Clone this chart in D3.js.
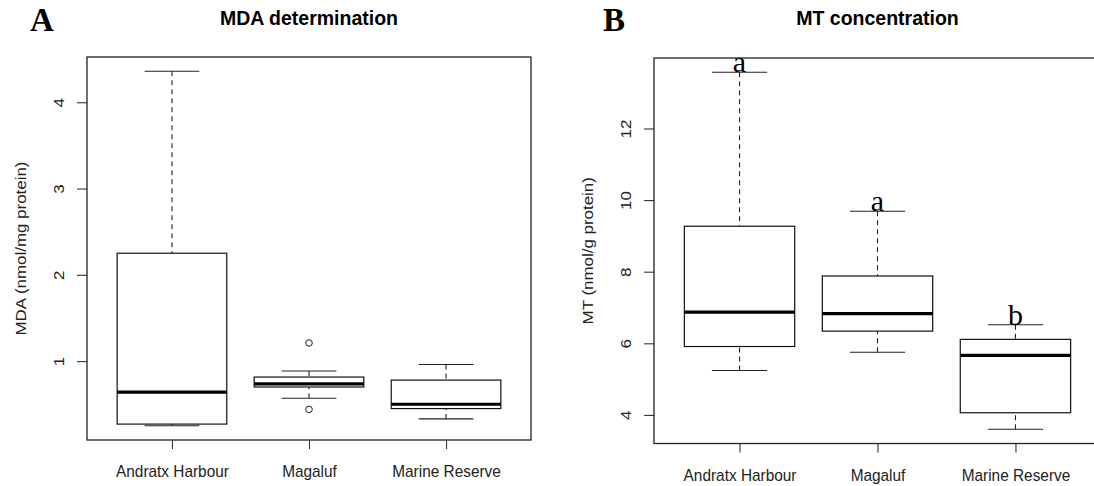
<!DOCTYPE html>
<html>
<head>
<meta charset="utf-8">
<script src="https://cdn.jsdelivr.net/npm/d3@7/dist/d3.min.js"></script>
<style>
    html, body { margin: 0; padding: 0; background: #fff; }
    svg { display: block; }
    .axis-text { font-family: "Liberation Sans", Arial, sans-serif; font-size: 15.4px; fill: #222; }
    .title { font-family: "Liberation Sans", Arial, sans-serif; font-size: 19.5px; font-weight: bold; fill: #000; }
    .panel-letter { font-family: "Liberation Serif", "Times New Roman", serif; font-size: 33px; font-weight: bold; fill: #000; }
    .sig-letter { font-family: "Liberation Serif", "Times New Roman", serif; font-size: 30px; fill: #000; }
</style>
</head>
<body>
<div id="chart"></div>
<script>
// Two R-style boxplots side by side: MDA (panel A) and MT (panel B).
// Box stats: lower whisker, Q1, median, Q3, upper whisker.

const sites = ["Andratx Harbour", "Magaluf", "Marine Reserve"];

const mdaWhiskerLow = [0.25, 0.57, 0.33];
const mdaQ1 = [0.27, 0.70, 0.45];
const mdaMedian = [0.64, 0.735, 0.50];
const mdaQ3 = [2.25, 0.815, 0.78];
const mdaWhiskerHigh = [4.36, 0.885, 0.96];
const mdaOutliers = [[], [1.21, 0.44], []];
const mdaTicks = [1, 2, 3, 4];

const mtWhiskerLow = [5.24, 5.75, 3.60];
const mtQ1 = [5.91, 6.34, 4.06];
const mtMedian = [6.87, 6.83, 5.66];
const mtQ3 = [9.27, 7.88, 6.11];
const mtWhiskerHigh = [13.57, 9.69, 6.52];
const mtOutliers = [[], [], []];
const mtTicks = [4, 6, 8, 10, 12];
const mtLetters = ["a", "a", "b"];

const W = 1094, H = 486;
// R draws text slightly stretched vertically in this figure
const STRETCH = 1.1;

const svg = d3.select("#chart").append("svg")
    .attr("width", W).attr("height", H)
    .attr("viewBox", `0 0 ${W} ${H}`);

svg.append("rect").attr("width", W).attr("height", H).attr("fill", "#fff");

function drawPanel(cfg) {
    const { frame, lo, q1, med, q3, hi, outliers, ticks, letters } = cfg;

    // y range like R: data extent padded 4% each side
    const all = [...lo, ...hi, ...outliers.flat()];
    const dMin = d3.min(all), dMax = d3.max(all);
    const pad = (dMax - dMin) * 0.04;
    const y = d3.scaleLinear().domain([dMin - pad, dMax + pad]).range([frame.bottom, frame.top]);
    // boxplot positions 1..n, xlim 0.5..n+0.5 padded 4%
    const n = sites.length;
    const xPad = n * 0.04;
    const x = d3.scaleLinear().domain([0.5 - xPad, n + 0.5 + xPad]).range([frame.left, frame.right]);
    const halfBox = x(1.4) - x(1);
    const halfStaple = halfBox / 2;

    const g = svg.append("g");

    // y axis
    const yAxis = g.append("g")
        .attr("transform", `translate(${frame.left},0)`)
        .call(d3.axisLeft(y).tickValues(ticks).tickSize(10).tickFormat(d3.format("d")));
    yAxis.select(".domain").remove();
    yAxis.selectAll(".tick line").attr("stroke", "#333").attr("stroke-width", 1.1);
    yAxis.selectAll(".tick text")
        .attr("class", "axis-text")
        .attr("x", null).attr("dy", null)
        .attr("text-anchor", "middle")
        .attr("transform", `translate(-23,0) rotate(-90) scale(${STRETCH},1)`);

    // x axis
    const xAxis = g.append("g")
        .attr("transform", `translate(0,${frame.bottom})`)
        .call(d3.axisBottom(x).tickValues(d3.range(1, n + 1)).tickSize(9)
            .tickFormat((i) => sites[i - 1]));
    xAxis.select(".domain").remove();
    xAxis.selectAll(".tick line").attr("stroke", "#333").attr("stroke-width", 1.1);
    xAxis.selectAll(".tick text")
        .attr("class", "axis-text")
        .attr("y", null).attr("dy", null)
        .attr("text-anchor", "middle")
        .attr("transform", `translate(0,37) scale(1,${STRETCH})`);

    // boxes
    const boxes = g.selectAll(".box").data(sites).join("g").attr("class", "box");
    const cx = (_, i) => x(i + 1);

    // dashed whiskers, drawn from whisker end to box edge like R
    boxes.append("line")
        .attr("x1", cx).attr("x2", cx)
        .attr("y1", (_, i) => y(lo[i])).attr("y2", (_, i) => y(q1[i]))
        .attr("stroke", "#222").attr("stroke-width", 1.1).attr("stroke-dasharray", "5,4");
    boxes.append("line")
        .attr("x1", cx).attr("x2", cx)
        .attr("y1", (_, i) => y(hi[i])).attr("y2", (_, i) => y(q3[i]))
        .attr("stroke", "#222").attr("stroke-width", 1.1).attr("stroke-dasharray", "5,4");
    // staples
    [lo, hi].forEach((vals) => {
        boxes.append("line")
            .attr("x1", (_, i) => x(i + 1) - halfStaple)
            .attr("x2", (_, i) => x(i + 1) + halfStaple)
            .attr("y1", (_, i) => y(vals[i])).attr("y2", (_, i) => y(vals[i]))
            .attr("stroke", "#222").attr("stroke-width", 1.1);
    });
    boxes.append("rect")
        .attr("x", (_, i) => x(i + 1) - halfBox)
        .attr("width", halfBox * 2)
        .attr("y", (_, i) => y(q3[i]))
        .attr("height", (_, i) => y(q1[i]) - y(q3[i]))
        .attr("fill", "#fff").attr("stroke", "#111").attr("stroke-width", 1.2);
    boxes.append("line")
        .attr("x1", (_, i) => x(i + 1) - halfBox)
        .attr("x2", (_, i) => x(i + 1) + halfBox)
        .attr("y1", (_, i) => y(med[i])).attr("y2", (_, i) => y(med[i]))
        .attr("stroke", "#000").attr("stroke-width", 3.2);

    // outliers
    boxes.selectAll("circle")
        .data((_, i) => outliers[i].map((v) => ({ v, i })))
        .join("circle")
        .attr("cx", (d) => x(d.i + 1)).attr("cy", (d) => y(d.v))
        .attr("r", 3.3)
        .attr("fill", "none").attr("stroke", "#222").attr("stroke-width", 1);

    // significance letters above upper whiskers
    if (letters) {
        g.selectAll(".sig-letter").data(letters).join("text")
            .attr("class", "sig-letter")
            .attr("x", (_, i) => x(i + 1))
            .attr("y", (_, i) => y(hi[i]))
            .attr("text-anchor", "middle")
            .text((d) => d);
    }

    // frame
    g.append("rect")
        .attr("x", frame.left).attr("y", frame.top)
        .attr("width", frame.right - frame.left)
        .attr("height", frame.bottom - frame.top)
        .attr("fill", "none").attr("stroke", "#222").attr("stroke-width", 1.3);

    // y label
    g.append("text")
        .attr("class", "axis-text")
        .attr("text-anchor", "middle")
        .attr("transform", `translate(${frame.left - 61},${(frame.top + frame.bottom) / 2}) rotate(-90) scale(${STRETCH},1)`)
        .text(cfg.ylabel);

    // title and panel letter
    g.append("text")
        .attr("class", "title")
        .attr("x", (frame.left + frame.right) / 2)
        .attr("y", 25)
        .attr("text-anchor", "middle")
        .text(cfg.title);
    g.append("text")
        .attr("class", "panel-letter")
        .attr("x", cfg.letterX)
        .attr("y", 31)
        .text(cfg.panel);
}

drawPanel({
    frame: { left: 87, right: 531, top: 57, bottom: 440 },
    lo: mdaWhiskerLow, q1: mdaQ1, med: mdaMedian, q3: mdaQ3, hi: mdaWhiskerHigh,
    outliers: mdaOutliers, ticks: mdaTicks, letters: null,
    ylabel: "MDA (nmol/mg protein)",
    title: "MDA determination",
    panel: "A", letterX: 30,
});

drawPanel({
    frame: { left: 654, right: 1101, top: 58, bottom: 443.5 },
    lo: mtWhiskerLow, q1: mtQ1, med: mtMedian, q3: mtQ3, hi: mtWhiskerHigh,
    outliers: mtOutliers, ticks: mtTicks, letters: mtLetters,
    ylabel: "MT (nmol/g protein)",
    title: "MT concentration",
    panel: "B", letterX: 603,
});
</script>
</body>
</html>
